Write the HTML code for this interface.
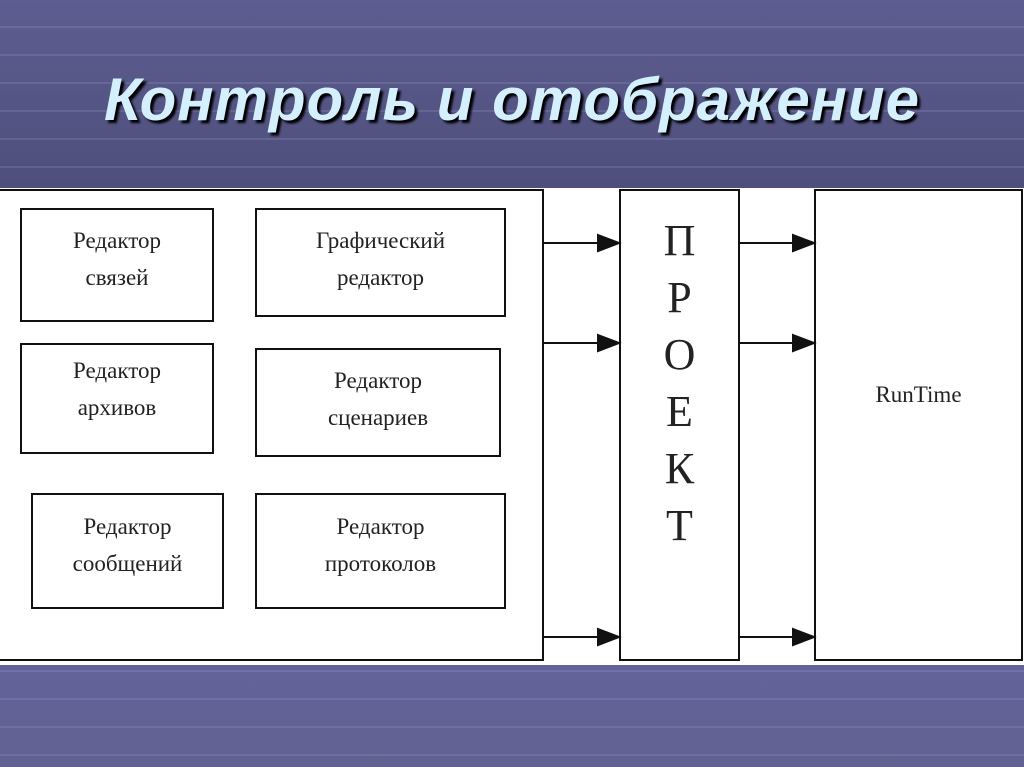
<!DOCTYPE html>
<html><head><meta charset="utf-8"><style>
body{margin:0;width:1024px;height:767px;overflow:hidden;font-family:"Liberation Sans",sans-serif;
background:linear-gradient(#5d5d91,#4f4f7c 185px,#63639a 670px,#616192);position:relative}
.grid{position:absolute;left:0;top:0;width:1024px;height:767px;
background-image:repeating-linear-gradient(180deg,transparent 0 26px,rgba(150,150,200,.25) 26px 28px);}
h1{position:absolute;left:0;width:1024px;top:65px;margin:0;text-align:center;font-size:60px;font-style:italic;font-weight:bold;color:#d4f0ff;text-shadow:3px 3px 2px #000;letter-spacing:1px}
.white{position:absolute;left:0;top:188px;width:1024px;height:477px;background:#fff}
.b{position:absolute;border:2px solid #111;box-sizing:border-box;background:#fff}
.t{position:absolute;font-family:"Liberation Serif",serif;font-size:23px;color:#222;text-align:center;line-height:37px}
</style></head><body>
<div class="grid"></div>
<h1>Контроль и отображение</h1>
<div class="white"></div>
<div class="b" style="left:-2px;top:189px;width:546px;height:472px"></div>
<div class="b" style="left:619px;top:189px;width:121px;height:472px"></div>
<div class="b" style="left:814px;top:189px;width:209px;height:472px"></div>
<div class="b" style="left:20px;top:208px;width:194px;height:114px"></div>
<div class="b" style="left:255px;top:208px;width:251px;height:109px"></div>
<div class="b" style="left:20px;top:343px;width:194px;height:111px"></div>
<div class="b" style="left:255px;top:348px;width:246px;height:109px"></div>
<div class="b" style="left:31px;top:493px;width:193px;height:116px"></div>
<div class="b" style="left:255px;top:493px;width:251px;height:116px"></div>
<div class="t" style="left:20px;top:222px;width:194px">Редактор<br>связей</div>
<div class="t" style="left:255px;top:222px;width:251px">Графический<br>редактор</div>
<div class="t" style="left:20px;top:352px;width:194px">Редактор<br>архивов</div>
<div class="t" style="left:255px;top:362px;width:246px">Редактор<br>сценариев</div>
<div class="t" style="left:31px;top:508px;width:193px">Редактор<br>сообщений</div>
<div class="t" style="left:255px;top:508px;width:251px">Редактор<br>протоколов</div>
<div class="t" style="left:814px;top:376px;width:209px">RunTime</div>
<div class="t" style="left:619px;top:212px;width:121px;font-size:44px;line-height:57px">П<br>Р<br>О<br>Е<br>К<br>Т</div>
<svg style="position:absolute;left:0;top:0" width="1024" height="767">
<g stroke="#111" stroke-width="2" fill="#111">
<line x1="543" y1="243" x2="600" y2="243"/><polygon points="598,235 619,243 598,251"/>
<line x1="543" y1="343" x2="600" y2="343"/><polygon points="598,335 619,343 598,351"/>
<line x1="543" y1="637" x2="600" y2="637"/><polygon points="598,629 619,637 598,645"/>
<line x1="739" y1="243" x2="795" y2="243"/><polygon points="793,235 814,243 793,251"/>
<line x1="739" y1="343" x2="795" y2="343"/><polygon points="793,335 814,343 793,351"/>
<line x1="739" y1="637" x2="795" y2="637"/><polygon points="793,629 814,637 793,645"/>
</g></svg>
</body></html>
